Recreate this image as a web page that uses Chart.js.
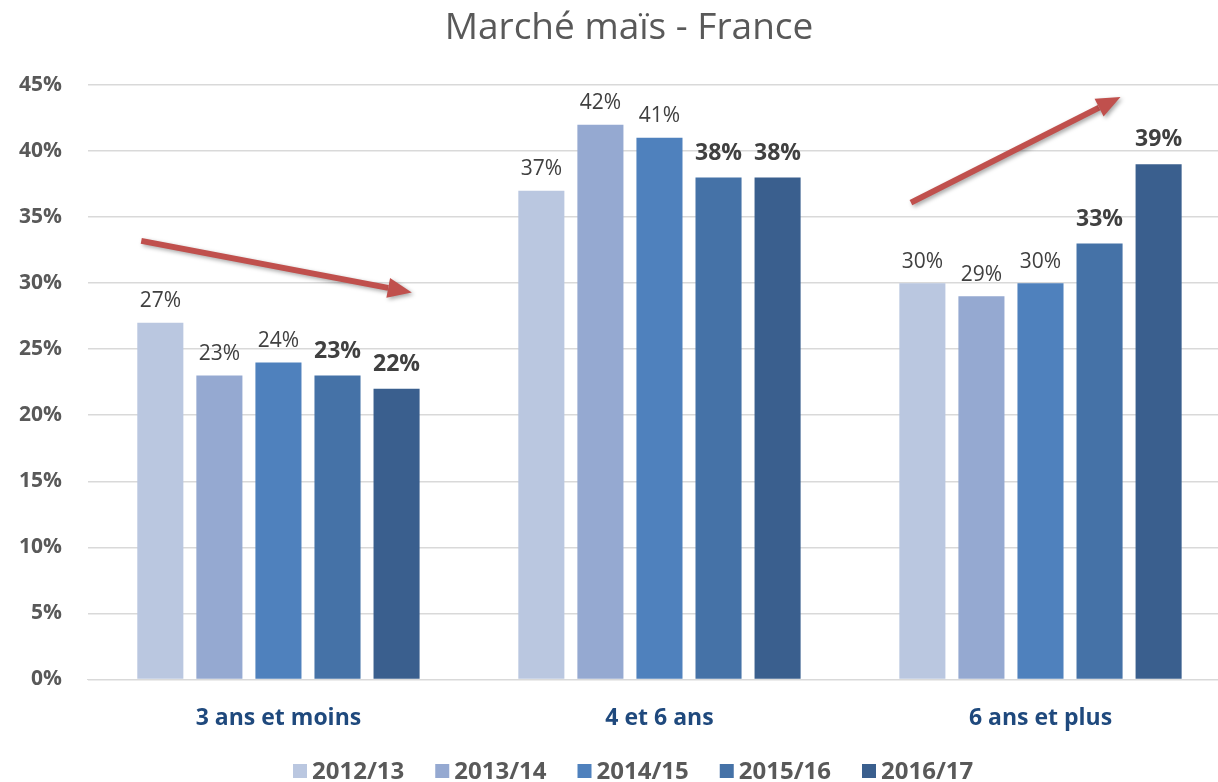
<!DOCTYPE html>
<html>
<head>
<meta charset="utf-8">
<script src="https://cdn.jsdelivr.net/npm/chart.js@4/dist/chart.umd.min.js"></script>
<style>
  html, body { margin: 0; padding: 0; background: #fff; overflow: hidden; }
  /* la zone de trace du modele depasse un peu a droite de l'image */
  #wrap { width: 1231px; height: 782px; }
</style>
</head>
<body>
<div id="wrap"><canvas id="chartMais"></canvas></div>
<script>
// donnees du graphique
var titre = 'Marché maïs - France';
var categories = ['3 ans et moins', '4 et 6 ans', '6 ans et plus'];
var campagnes = ['2012/13', '2013/14', '2014/15', '2015/16', '2016/17'];
var v2012 = [27, 37, 30];
var v2013 = [23, 42, 29];
var v2014 = [24, 41, 30];
var v2015 = [23, 38, 33];
var v2016 = [22, 38, 39];
var yTicks = [0, 5, 10, 15, 20, 25, 30, 35, 40, 45];
// fleches: [categorie, decalage debut, valeur debut, decalage fin, valeur fin]
var fleches = [
    [0, -0.36, 33.2, 0.35, 29.3],
    [2, -0.34, 36.1, 0.21, 44.1]
];

var couleurs = ['#BAC7E0', '#95A9D1', '#4F81BD', '#4572A7', '#3A5F8E'];
var gras = [false, false, false, true, true];
var serie = [v2012, v2013, v2014, v2015, v2016];

var datasets = campagnes.map(function (c, i) {
    return {
        label: c,
        data: serie[i],
        backgroundColor: couleurs[i],
        borderWidth: 0,
        categoryPercentage: 0.775,
        barPercentage: 0.78
    };
});

// etiquettes au dessus des barres
var etiquettes = {
    id: 'etiquettes',
    afterDatasetsDraw: function (chart) {
        var ctx = chart.ctx;
        ctx.save();
        ctx.fillStyle = '#404040';
        ctx.textAlign = 'center';
        ctx.textBaseline = 'bottom';
        chart.data.datasets.forEach(function (ds, i) {
            var meta = chart.getDatasetMeta(i);
            ctx.font = (gras[i] ? 'bold 23px' : '21px') + ' "Open Sans", sans-serif';
            var dec = gras[i] ? 13 : 11;
            meta.data.forEach(function (bar, j) {
                ctx.fillText(ds.data[j] + '%', bar.x, bar.y - dec);
            });
        });
        ctx.restore();
    }
};

// titre + legende dessines a la main pour controler les positions
var habillage = {
    id: 'habillage',
    afterDraw: function (chart) {
        var ctx = chart.ctx;
        ctx.save();
        ctx.fillStyle = '#595959';
        ctx.textAlign = 'center';
        ctx.textBaseline = 'middle';
        ctx.font = '37px "Open Sans", sans-serif';
        ctx.fillText(titre, 629, 28);

        var yMid = chart.height - 11;
        var carre = 14, ecart = 5, entre = 31;
        ctx.font = 'bold 24px "Open Sans", sans-serif';
        ctx.textAlign = 'left';
        var largeurs = chart.data.datasets.map(function (ds) {
            return carre + ecart + ctx.measureText(ds.label).width;
        });
        var x = 293;
        chart.data.datasets.forEach(function (ds, i) {
            ctx.fillStyle = ds.backgroundColor;
            ctx.fillRect(x, yMid - carre / 2, carre, carre);
            ctx.fillStyle = '#595959';
            ctx.fillText(ds.label, x + carre + ecart, yMid + 1);
            x += largeurs[i] + entre;
        });
        ctx.restore();
    }
};

// fleches rouges
var flechesPlugin = {
    id: 'fleches',
    afterDraw: function (chart) {
        var ctx = chart.ctx;
        var xs = chart.scales.x, ys = chart.scales.y;
        var larg = xs.getPixelForValue(1) - xs.getPixelForValue(0);
        fleches.forEach(function (f) {
            var cx = xs.getPixelForValue(f[0]);
            var x1 = cx + f[1] * larg, y1 = ys.getPixelForValue(f[2]);
            var x2 = cx + f[3] * larg, y2 = ys.getPixelForValue(f[4]);
            var a = Math.atan2(y2 - y1, x2 - x1);
            var tete = 24;
            var bx = x2 - tete * Math.cos(a), by = y2 - tete * Math.sin(a);
            ctx.save();
            ctx.shadowColor = 'rgba(0,0,0,0.35)';
            ctx.shadowBlur = 4;
            ctx.shadowOffsetX = 2;
            ctx.shadowOffsetY = 2;
            ctx.strokeStyle = '#C0504D';
            ctx.fillStyle = '#C0504D';
            ctx.lineWidth = 6;
            ctx.beginPath();
            ctx.moveTo(x1, y1);
            ctx.lineTo(bx, by);
            ctx.stroke();
            ctx.beginPath();
            ctx.moveTo(x2, y2);
            ctx.lineTo(bx + 10 * Math.sin(a), by - 10 * Math.cos(a));
            ctx.lineTo(bx - 10 * Math.sin(a), by + 10 * Math.cos(a));
            ctx.closePath();
            ctx.fill();
            ctx.restore();
        });
    }
};

var ctx = document.getElementById('chartMais').getContext('2d');
new Chart(ctx, {
    type: 'bar',
    data: { labels: categories, datasets: datasets },
    plugins: [etiquettes, habillage, flechesPlugin],
    options: {
        responsive: true,
        maintainAspectRatio: false,
        animation: false,
        layout: { padding: { left: -7, right: 0, top: 85, bottom: 33 } },
        plugins: {
            title: { display: false },
            legend: { display: false },
            tooltip: { enabled: false }
        },
        scales: {
            x: {
                grid: { display: false },
                border: { color: '#d9d9d9', width: 1 },
                ticks: {
                    color: '#1F497D',
                    padding: 17,
                    font: { family: '"Open Sans", sans-serif', size: 23, weight: 'bold' }
                }
            },
            y: {
                min: yTicks[0],
                max: yTicks[yTicks.length - 1],
                afterBuildTicks: function (axis) {
                    axis.ticks = yTicks.map(function (v) { return { value: v }; });
                },
                grid: { color: '#d9d9d9', lineWidth: 1.5, drawTicks: false },
                border: { display: false },
                ticks: {
                    color: '#595959',
                    padding: 26,
                    font: { family: '"Open Sans", sans-serif', size: 21, weight: 'bold' },
                    callback: function (v) { return v + '%'; }
                }
            }
        }
    }
});
</script>
</body>
</html>
